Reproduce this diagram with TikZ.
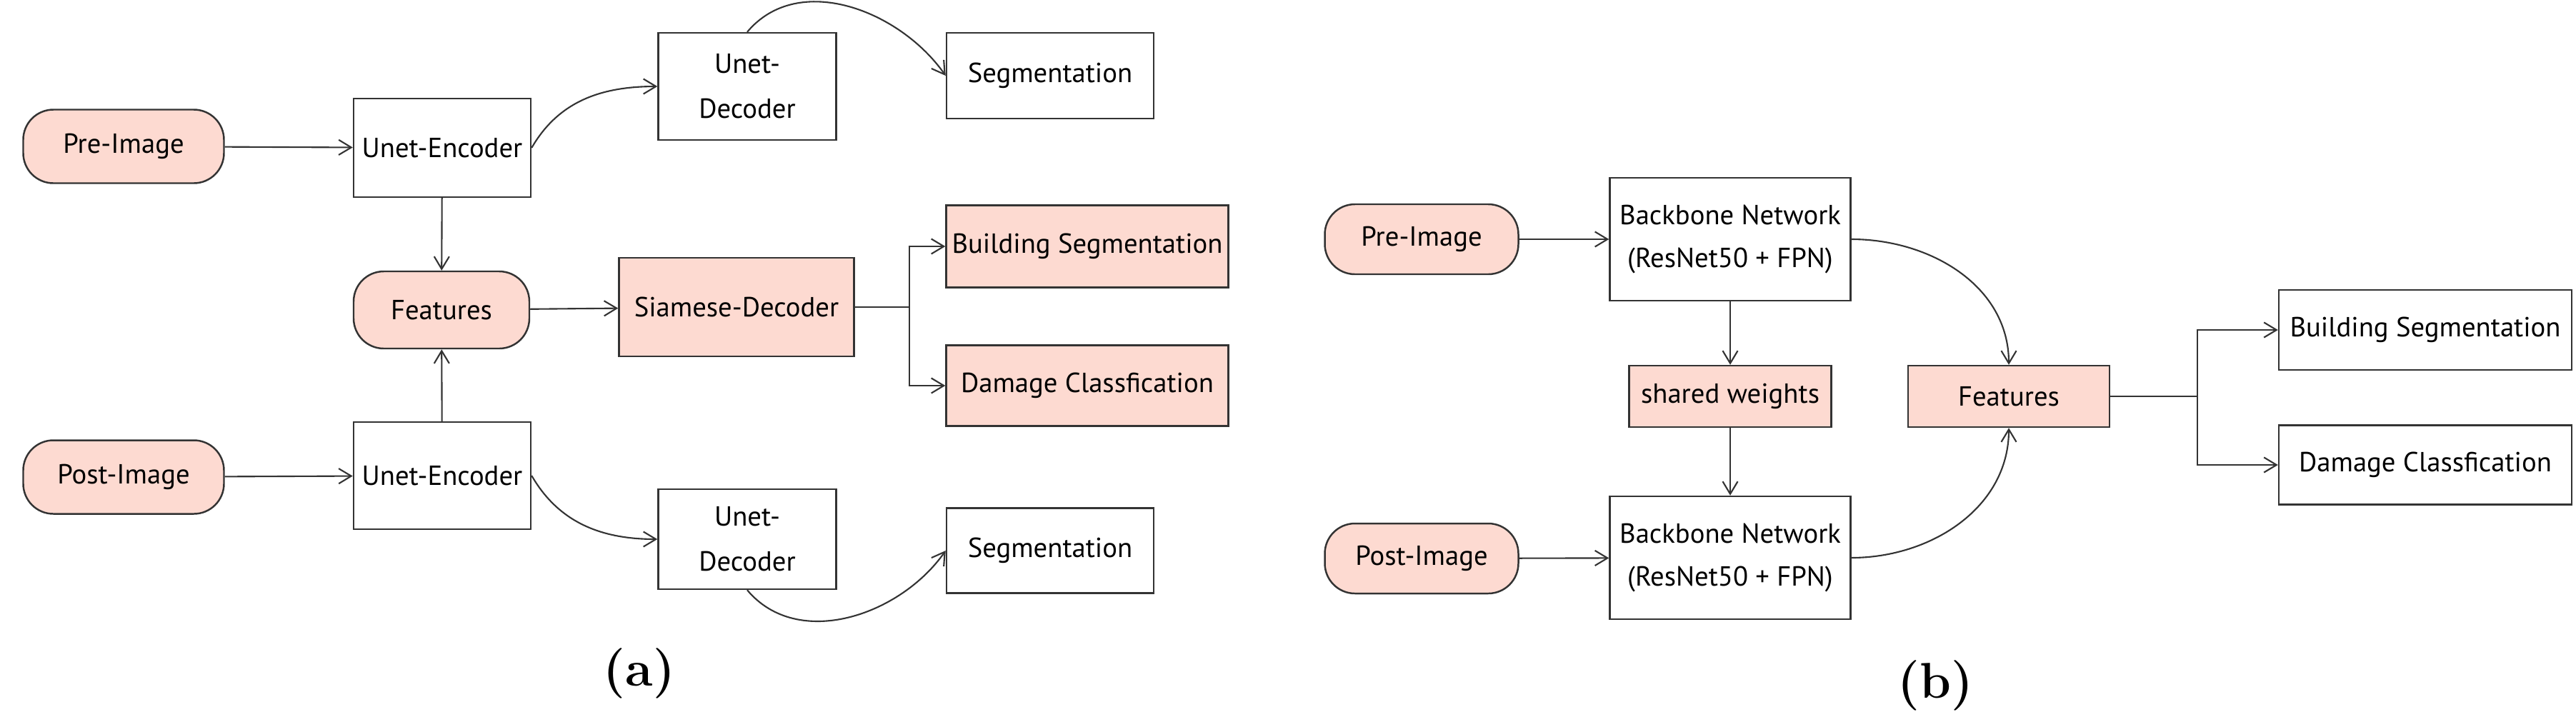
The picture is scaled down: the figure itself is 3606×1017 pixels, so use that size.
\documentclass[tikz,border=0pt]{standalone}
\usepackage{fontspec}
\setsansfont{PT Sans}
\usetikzlibrary{arrows.meta}
\definecolor{pinkf}{HTML}{FDDAD1}
\definecolor{ink}{HTML}{333333}
\tikzset{
  base/.style={draw=ink, line width=0.7pt, font=\sffamily\fontsize{11}{14}\selectfont, align=center, inner sep=0pt},
  box/.style={base, rectangle},
  pbox/.style={base, rectangle, fill=pinkf},
  pill/.style={base, rounded corners=12pt, fill=pinkf},
  arr/.style={draw=ink, line width=0.6pt, -{Straight Barb[length=5pt,width=6pt]}},
  ln/.style={draw=ink, line width=0.6pt},
  lab/.style={font=\fontsize{20}{24}\selectfont\bfseries}
}
\newcommand{\bx}[6]{\node[#1, minimum width=#4*0.01cm-0.7pt, minimum height=#5*0.01cm-0.7pt] (#6) at (#2,#3) {};}
\begin{document}
\begin{tikzpicture}[x=0.01cm,y=-0.01cm]
\useasboundingbox (0,0) rectangle (3606,1017);
% (a)
\node[pill, minimum width=281*0.01cm, minimum height=103*0.01cm] (pre) at (173,205) {Pre-Image};
\node[box, minimum width=248*0.01cm, minimum height=138*0.01cm] (ue1) at (619,207) {Unet-Encoder};
\node[box, minimum width=249*0.01cm, minimum height=150*0.01cm] (ud1) at (1046,121) {Unet-\\[4pt]Decoder};
\node[box, minimum width=290*0.01cm, minimum height=120*0.01cm] (sg1) at (1470,106) {Segmentation};
\node[pill, minimum width=246*0.01cm, minimum height=108*0.01cm] (feat) at (618,434) {Features};
\node[pbox, minimum width=329*0.01cm, minimum height=138*0.01cm] (sd) at (1031,430) {Siamese-Decoder};
\node[pbox, minimum width=395*0.01cm, minimum height=115*0.01cm] (bs1) at (1522,345) {Building Segmentation};
\node[pbox, minimum width=395*0.01cm, minimum height=113*0.01cm] (dc1) at (1522,540) {Damage Classfication};
\node[pill, minimum width=281*0.01cm, minimum height=103*0.01cm] (post) at (173,668) {Post-Image};
\node[box, minimum width=248*0.01cm, minimum height=150*0.01cm] (ue2) at (619,666) {Unet-Encoder};
\node[box, minimum width=249*0.01cm, minimum height=140*0.01cm] (ud2) at (1046,755) {Unet-\\[4pt]Decoder};
\node[box, minimum width=290*0.01cm, minimum height=119*0.01cm] (sg2) at (1470,771) {Segmentation};
\node[lab] (la) at (895,943) {(a)};
\draw[arr] (pre) -- (ue1);
\draw[arr] (post) -- (ue2);
\draw[arr] (ue1) -- (feat);
\draw[arr] (ue2) -- (feat);
\draw[arr] (feat) -- (sd);
\draw[arr] (ue1.east) to[out=60,in=180] (ud1.west);
\draw[arr] (ue2.east) to[out=-60,in=180] (ud2.west);
\draw[arr] (ud1.north) to[out=50,in=125] (sg1.west);
\draw[arr] (ud2.south) to[out=-50,in=-125] (sg2.west);
\coordinate (ja) at (1273,430);
\draw[ln] (sd.east) -- (ja);
\draw[arr] (ja) |- (bs1.west);
\draw[arr] (ja) |- (dc1.west);
% (b)
\node[pill, minimum width=271*0.01cm, minimum height=98*0.01cm] (preb) at (1990,335) {Pre-Image};
\node[box, minimum width=337*0.01cm, minimum height=172*0.01cm] (bb1) at (2422,335) {Backbone Network\\[3pt](ResNet50 + FPN)};
\node[pbox, minimum width=283*0.01cm, minimum height=86*0.01cm] (sw) at (2422,555) {shared weights};
\node[pbox, minimum width=282*0.01cm, minimum height=86*0.01cm] (featb) at (2812,555) {Features};
\node[box, minimum width=410*0.01cm, minimum height=112*0.01cm] (bs2) at (3395,462) {Building Segmentation};
\node[box, minimum width=410*0.01cm, minimum height=111*0.01cm] (dc2) at (3395,651) {Damage Classfication};
\node[pill, minimum width=271*0.01cm, minimum height=98*0.01cm] (postb) at (1990,782) {Post-Image};
\node[box, minimum width=337*0.01cm, minimum height=172*0.01cm] (bb2) at (2422,781) {Backbone Network\\[3pt](ResNet50 + FPN)};
\node[lab] (lb) at (2709,960) {(b)};
\draw[arr] (preb) -- (bb1);
\draw[arr] (postb) -- (bb2);
\draw[arr] (bb1) -- (sw);
\draw[arr] (sw) -- (bb2);
\draw[arr] (bb1.east) to[out=0,in=90] (featb.north);
\draw[arr] (bb2.east) to[out=0,in=-90] (featb.south);
\coordinate (jb) at (3076,555);
\draw[ln] (featb.east) -- (jb);
\draw[arr] (jb) |- (bs2.west);
\draw[arr] (jb) |- (dc2.west);
\end{tikzpicture}
\end{document}
